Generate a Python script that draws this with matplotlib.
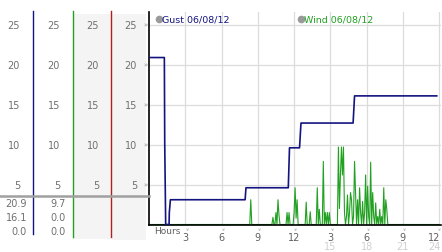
import matplotlib
matplotlib.use("Agg")
import matplotlib.pyplot as plt
import matplotlib.transforms as mtransforms
from matplotlib.patches import Rectangle
from matplotlib.lines import Line2D

# ---- data ----
# gust steps (hour of day, value)
gust_hours = [0, 1.27, 1.30, 1.38, 1.66, 1.68, 1.77, 7.95, 8.02, 11.52, 11.62, 12.45, 12.57, 16.88, 17.0, 23.8]
gust_vals = [20.9, 20.9, 10.3, 0.0, 0.0, 1.5, 3.1, 3.1, 4.6, 4.6, 9.6, 9.6, 12.7, 12.7, 16.1, 16.1]

# wind, 5 minute readings, one row per hour from 08:00 to 19:55
wind_day = [
    0, 0, 0, 0, 0, 3.1, 0, 0, 0, 0, 0, 0,
    0, 0, 0, 0, 0, 0, 0, 0, 0, 0, 0, 0,
    0, 0, 0, 0.9, 0, 0, 1.5, 0, 3.1, 1.2, 0, 0,
    0, 0, 0, 0, 0, 1.5, 0, 1.5, 0, 0, 0, 0,
    1.5, 4.6, 0.8, 3.1, 0, 0, 0, 0, 0, 0, 0, 0,
    2.8, 0, 0, 0, 1.6, 0, 0, 0, 0, 0, 0, 4.6,
    0, 1.9, 0, 0, 0, 7.9, 0, 1.5, 0, 1.5, 0, 1.5,
    0, 0, 0, 0, 0, 0, 0, 0, 9.7, 2.0, 6.2, 9.7,
    6.2, 9.7, 1.5, 0, 1.0, 3.7, 0, 1.5, 4.0, 3.1, 0, 1.0,
    7.9, 4.0, 0, 3.1, 0, 4.6, 1.5, 0, 2.9, 0, 1.5, 6.2,
    0, 4.8, 1.0, 0, 7.8, 0, 4.0, 1.0, 0, 2.7, 0, 1.0,
    0, 1.9, 0, 1.0, 0, 4.6, 0, 3.1, 1.9, 0, 0, 0,
]
wind_vals = [0.0] * 96 + wind_day + [0.0] * 49
wind_hours = [k / 12 for k in range(len(wind_vals))]

y_ticks = [5, 10, 15, 20, 25]
x_ticks = [3, 6, 9, 12, 15, 18, 21, 24]
x_labels = ["3", "6", "9", "12", "3", "6", "9", "12"]
x_labels2 = {15: "15", 18: "18", 21: "21", 24: "24"}

gust_summary = ["20.9", "16.1", "0.0"]
wind_summary = ["9.7", "0.0", "0.0"]

NAVY = "#141480"
GREEN = "#22a022"
RED = "#b02020"
GRID = "#dcdcdc"
TXT = "#707070"

W, H = 442, 253
fig = plt.figure(figsize=(W / 100, H / 100), dpi=100)
fig.patch.set_facecolor("white")


def fx(px):
    return px / W


def fy(py):
    return 1 - py / H


# main plot area
ax = fig.add_axes([fx(149), fy(225.5), fx(441) - fx(149), fy(13) - fy(225.5)])
ax.set_xlim(0, 24.15)
ax.set_ylim(0, 26.6)
for s in ["top", "right"]:
    ax.spines[s].set_visible(False)
ax.spines["left"].set_color("black")
ax.spines["bottom"].set_color("black")
ax.spines["left"].set_linewidth(1.2)
ax.spines["bottom"].set_linewidth(1.2)
ax.set_xticks(x_ticks)
ax.set_yticks(y_ticks)
ax.tick_params(length=0, labelbottom=False, labelleft=False)
ax.grid(True, color=GRID, linewidth=0.9)
ax.set_axisbelow(True)

ax.plot(wind_hours, wind_vals, color=GREEN, linewidth=0.8, zorder=2)
ax.plot(gust_hours, gust_vals, color=NAVY, linewidth=1.2, zorder=3)

# legend
ax.plot([0.85], [25.75], marker="o", markersize=4.5, color="#9a9a9a", clip_on=False)
ax.text(1.1, 25.75, "Gust 06/08/12", color=NAVY, fontsize=6.8, va="center")
ax.plot([12.6], [25.75], marker="o", markersize=4.5, color="#9a9a9a", clip_on=False)
ax.text(12.85, 25.75, "Wind 06/08/12", color=GREEN, fontsize=6.8, va="center")

# x labels
xlab = mtransforms.blended_transform_factory(ax.transData, fig.transFigure)
ax.text(0.4, fy(232), "Hours", transform=xlab, fontsize=6.5, color="#606060", va="center")
for t, lab in zip(x_ticks, x_labels):
    # last label sits against the right edge
    xt, ha = (t + 0.1, "right") if t == x_ticks[-1] else (t, "center")
    ax.text(t - 0.1 if t == x_ticks[-1] else t, fy(229), "»", transform=xlab, fontsize=4,
            color="#909090", rotation=270, ha="center", va="center")
    ax.text(xt, fy(238), lab, transform=xlab, fontsize=7, color="#606060", ha=ha, va="center")
    if t in x_labels2:
        ax.text(xt, fy(247.5), x_labels2[t], transform=xlab, fontsize=7, color="#d0d0d0",
                ha=ha, va="center")

# left side columns
fig.add_artist(Rectangle((fx(73), fy(240)), fx(111) - fx(73), fy(15) - fy(240),
                         transform=fig.transFigure, facecolor="#f4f4f4", edgecolor="none", zorder=0))
fig.add_artist(Rectangle((fx(112), fy(241)), fx(146) - fx(112), fy(15) - fy(241),
                         transform=fig.transFigure, facecolor="#f4f4f4", edgecolor="none", zorder=0))

for xp, col, y1 in [(33.3, NAVY, 235), (72.7, GREEN, 238), (111.3, RED, 238)]:
    fig.add_artist(Line2D([fx(xp), fx(xp)], [fy(12), fy(y1)], transform=fig.transFigure,
                          color=col, linewidth=1.0))

fig.add_artist(Line2D([0, fx(149)], [fy(196.7), fy(196.7)], transform=fig.transFigure,
                      color="#a0a0a0", linewidth=1.8))

side = mtransforms.blended_transform_factory(fig.transFigure, ax.transData)
for xr in [20, 60, 99, 137]:
    for v in y_ticks:
        fig.text(fx(xr), v, str(v), transform=side, fontsize=7, color=TXT, ha="right", va="center")
for v in y_ticks:
    fig.text(fx(145), v, "»", transform=side, fontsize=5, color="#909090", ha="center", va="center")

for i, (g, w) in enumerate(zip(gust_summary, wind_summary)):
    yy = fy(204 + i * 14)
    fig.text(fx(27), yy, g, fontsize=7, color=TXT, ha="right", va="center")
    fig.text(fx(66), yy, w, fontsize=7, color=TXT, ha="right", va="center")

fig.savefig("out.png", dpi=100)
